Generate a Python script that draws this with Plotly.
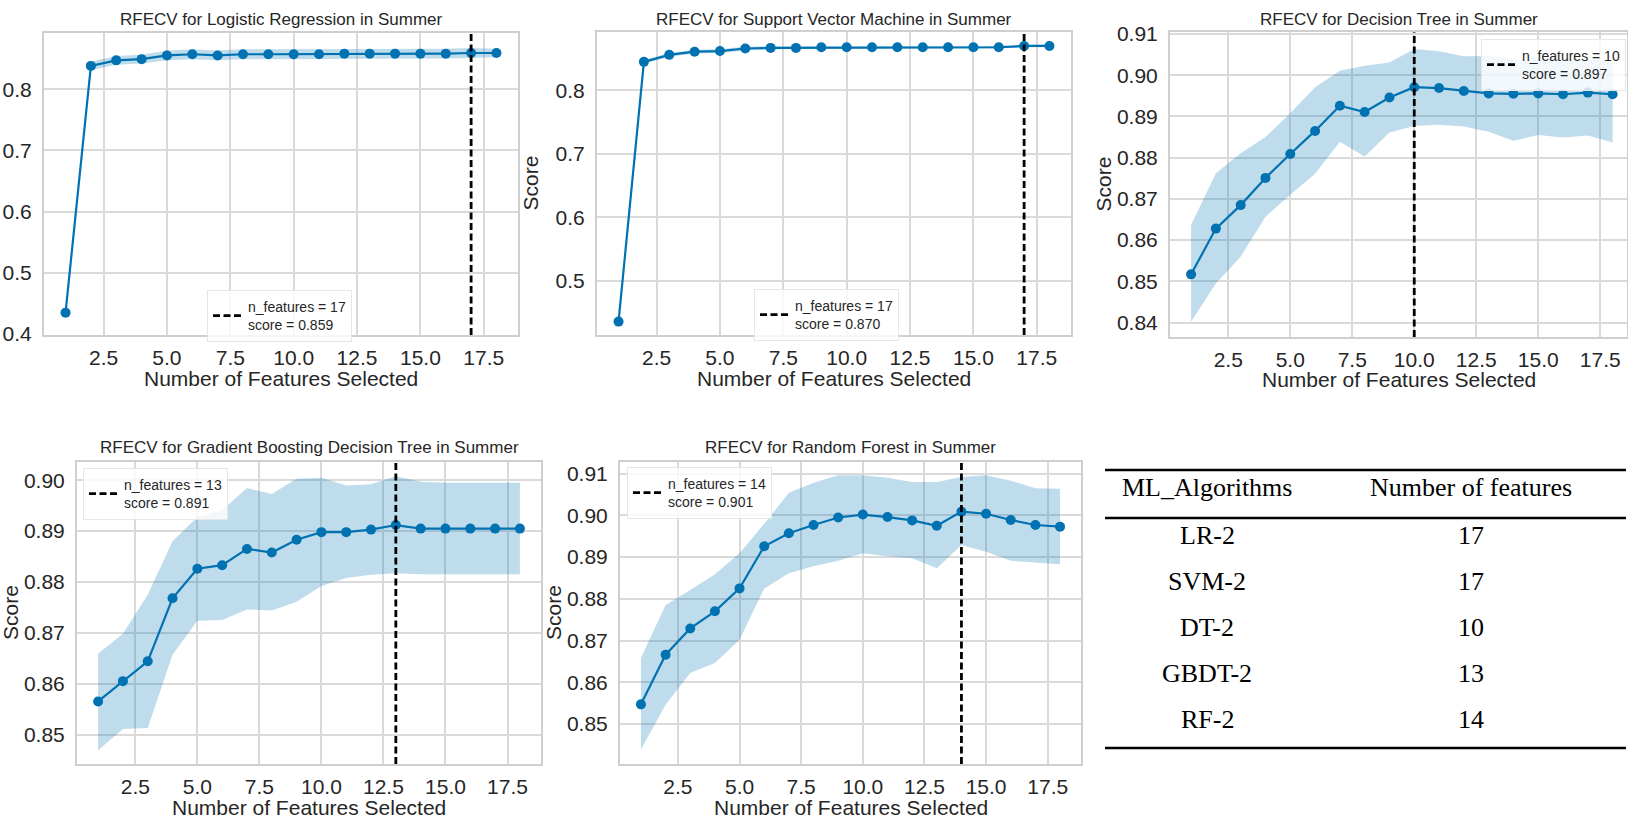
import plotly.graph_objects as go

W, H = 1628, 821

n_features = list(range(1, 19))

# ---- data ----
lr_mean = [0.435, 0.838, 0.847, 0.849, 0.855, 0.857, 0.855, 0.857, 0.857, 0.857, 0.857, 0.858, 0.858, 0.858, 0.858, 0.858, 0.859, 0.859]
lr_std = [0.002, 0.007, 0.007, 0.007, 0.008, 0.008, 0.008, 0.008, 0.008, 0.008, 0.008, 0.008, 0.008, 0.008, 0.008, 0.008, 0.008, 0.007]

svm_mean = [0.436, 0.845, 0.856, 0.861, 0.862, 0.866, 0.867, 0.867, 0.868, 0.868, 0.868, 0.868, 0.868, 0.868, 0.868, 0.868, 0.870, 0.870]
svm_std = [0.002, 0.003, 0.003, 0.003, 0.003, 0.003, 0.002, 0.002, 0.002, 0.002, 0.002, 0.002, 0.002, 0.002, 0.002, 0.002, 0.002, 0.002]

dt_mean = [0.8517, 0.8628, 0.8685, 0.8751, 0.8809, 0.8865, 0.8926, 0.8911, 0.8946, 0.8971, 0.8969, 0.8962, 0.8956, 0.8955, 0.8956, 0.8954, 0.8958, 0.8954]
dt_upper = [0.8637, 0.8762, 0.8811, 0.8850, 0.8908, 0.8971, 0.9011, 0.9023, 0.9031, 0.9064, 0.9058, 0.9046, 0.9047, 0.9039, 0.9042, 0.9038, 0.9038, 0.9035]
dt_lower = [0.8402, 0.8495, 0.8560, 0.8657, 0.8710, 0.8761, 0.8839, 0.8803, 0.8861, 0.8877, 0.8880, 0.8876, 0.8863, 0.8841, 0.8855, 0.8849, 0.8854, 0.8837]

gbdt_mean = [0.8565, 0.8605, 0.8644, 0.8768, 0.8826, 0.8833, 0.8865, 0.8858, 0.8883, 0.8898, 0.8898, 0.8903, 0.8912, 0.8905, 0.8905, 0.8905, 0.8905, 0.8905]
gbdt_upper = [0.8659, 0.8698, 0.8775, 0.8880, 0.8928, 0.8941, 0.8985, 0.8973, 0.9003, 0.9005, 0.8990, 0.8992, 0.9008, 0.8997, 0.8995, 0.8995, 0.8995, 0.8995]
gbdt_lower = [0.8469, 0.8511, 0.8513, 0.8657, 0.8724, 0.8725, 0.8746, 0.8744, 0.8761, 0.8792, 0.8808, 0.8814, 0.8817, 0.8815, 0.8815, 0.8815, 0.8815, 0.8815]

rf_mean = [0.8547, 0.8666, 0.8729, 0.8770, 0.8825, 0.8926, 0.8957, 0.8977, 0.8995, 0.9002, 0.8996, 0.8988, 0.8975, 0.9009, 0.9004, 0.8989, 0.8977, 0.8973]
rf_upper = [0.8658, 0.8785, 0.8821, 0.8859, 0.8909, 0.8980, 0.9054, 0.9078, 0.9096, 0.9096, 0.9090, 0.9080, 0.9080, 0.9092, 0.9096, 0.9083, 0.9065, 0.9064]
rf_lower = [0.8439, 0.8546, 0.8622, 0.8646, 0.8702, 0.8825, 0.8861, 0.8878, 0.8891, 0.8909, 0.8902, 0.8897, 0.8873, 0.8929, 0.8913, 0.8891, 0.8887, 0.8883]

titles = [
    "RFECV for Logistic Regression in Summer",
    "RFECV for Support Vector Machine in Summer",
    "RFECV for Decision Tree in Summer",
    "RFECV for Gradient Boosting Decision Tree in Summer",
    "RFECV for Random Forest in Summer",
]
best_n = [17, 17, 10, 13, 14]
best_score = [0.859, 0.870, 0.897, 0.891, 0.901]

table_header = ["ML_Algorithms", "Number of features"]
table_algos = ["LR-2", "SVM-2", "DT-2", "GBDT-2", "RF-2"]
table_nfeat = [17, 17, 10, 13, 14]

# ---- layout (pixel boxes of each axes: x0, x1, y_top, y_bottom) ----
boxes = [
    (44, 518, 33, 335),
    (597, 1071, 32, 335),
    (1170, 1627, 32, 337),
    (77, 541, 462, 764),
    (620, 1081, 462, 764),
]
yranges = [
    [0.3985, 0.8917],
    [0.4149, 0.892],
    [0.8365, 0.9105],
    [0.8442, 0.9036],
    [0.8404, 0.9128],
]
xranges = [[0.15, 18.85], [0.15, 18.85], [0.15, 18.58], [0.15, 18.85], [0.15, 18.85]]
ytick_vals = [
    [0.4, 0.5, 0.6, 0.7, 0.8],
    [0.5, 0.6, 0.7, 0.8],
    [0.84, 0.85, 0.86, 0.87, 0.88, 0.89, 0.90, 0.91],
    [0.85, 0.86, 0.87, 0.88, 0.89, 0.90],
    [0.85, 0.86, 0.87, 0.88, 0.89, 0.90, 0.91],
]
ytick_fmt = [".1f", ".1f", ".2f", ".2f", ".2f"]
show_ylabel = [False, True, True, True, True]
# legend anchor (px, anchor side)
legend_pos = [(207, 290, "left"), (754, 289, "left"), (1626, 39, "right"), (83, 468, "left"), (627, 467, "left")]

means = [lr_mean, svm_mean, dt_mean, gbdt_mean, rf_mean]
uppers = [
    [m + s for m, s in zip(lr_mean, lr_std)],
    [m + s for m, s in zip(svm_mean, svm_std)],
    dt_upper, gbdt_upper, rf_upper,
]
lowers = [
    [m - s for m, s in zip(lr_mean, lr_std)],
    [m - s for m, s in zip(svm_mean, svm_std)],
    dt_lower, gbdt_lower, rf_lower,
]

LINE = "#0072B2"
FILL = "rgba(0,114,178,0.25)"
TXT = "#262626"
FONT = "Liberation Sans, Arial, sans-serif"

fig = go.Figure()
layout = {}
annotations = []
shapes = []

for i in range(5):
    k = "" if i == 0 else str(i + 1)
    xa, ya = "x" + k, "y" + k
    x0, x1, yt, yb = boxes[i]
    legname = "legend" if i == 0 else "legend" + str(i + 1)

    fig.add_trace(go.Scatter(x=n_features, y=lowers[i], mode="lines", line=dict(width=0),
                             xaxis=xa, yaxis=ya, showlegend=False, hoverinfo="skip"))
    fig.add_trace(go.Scatter(x=n_features, y=uppers[i], mode="lines", line=dict(width=0),
                             fill="tonexty", fillcolor=FILL,
                             xaxis=xa, yaxis=ya, showlegend=False, hoverinfo="skip"))
    fig.add_trace(go.Scatter(x=n_features, y=means[i], mode="lines+markers",
                             line=dict(color=LINE, width=2.2),
                             marker=dict(color=LINE, size=10),
                             xaxis=xa, yaxis=ya, showlegend=False))
    fig.add_trace(go.Scatter(x=[best_n[i], best_n[i]], y=yranges[i], mode="lines",
                             line=dict(color="black", width=2.8, dash="7px,3.5px"),
                             name="n_features = %d<br>score = %.3f" % (best_n[i], best_score[i]),
                             xaxis=xa, yaxis=ya, showlegend=True, legend=legname))

    axis_common = dict(
        showline=True, mirror=True, linecolor="#cfcfcf", linewidth=2,
        showgrid=True, gridcolor="#dadada", gridwidth=1.6,
        zeroline=False, ticks="outside", tickcolor="rgba(0,0,0,0)",
        tickfont=dict(family=FONT, size=21, color=TXT), automargin=False,
    )
    layout["xaxis" + k] = dict(
        axis_common, ticklen=3,
        domain=[x0 / W, x1 / W], anchor=ya, range=xranges[i],
        tickvals=[2.5, 5.0, 7.5, 10.0, 12.5, 15.0, 17.5], tickformat=".1f",
    )
    layout["yaxis" + k] = dict(
        axis_common, ticklen=6,
        domain=[1 - yb / H, 1 - yt / H], anchor=xa, range=yranges[i],
        tickvals=ytick_vals[i], tickformat=ytick_fmt[i],
    )
    lx, ly, side = legend_pos[i]
    layout[legname] = dict(
        x=lx / W, y=1 - ly / H, xanchor=side, yanchor="top",
        bgcolor="rgba(255,255,255,0.8)", bordercolor="#e6e6e6", borderwidth=1,
        font=dict(family=FONT, size=14, color=TXT), itemwidth=30,
    )
    # subplot title
    annotations.append(dict(
        text=titles[i], x=(x0 + x1) / 2 / W, y=1 - (19 if i < 3 else 447) / H,
        xref="paper", yref="paper", xanchor="center", yanchor="middle", showarrow=False,
        font=dict(family=FONT, size=17, color=TXT),
    ))
    # x axis title
    annotations.append(dict(
        text="Number of Features Selected", x=(x0 + x1) / 2 / W, y=1 - (yb + 43) / H,
        xref="paper", yref="paper", xanchor="center", yanchor="middle", showarrow=False,
        font=dict(family=FONT, size=21, color=TXT),
    ))
    # y axis title
    if show_ylabel[i]:
        annotations.append(dict(
            text="Score", x=(x0 - 67) / W, y=1 - (yt + yb) / 2 / H, textangle=-90,
            xref="paper", yref="paper", xanchor="center", yanchor="middle", showarrow=False,
            font=dict(family=FONT, size=21, color=TXT),
        ))

# ---- table ----
TFONT = dict(family="Liberation Serif, Times New Roman, serif", size=26, color="black")
col_x = [1207, 1471]
for c in range(2):
    annotations.append(dict(text=table_header[c], x=col_x[c] / W, y=1 - 487 / H, xref="paper", yref="paper",
                            showarrow=False, xanchor="center", yanchor="middle", font=TFONT))
row_y0, row_dy = 535, 46
for r, (alg, nf) in enumerate(zip(table_algos, table_nfeat)):
    yy = 1 - (row_y0 + r * row_dy) / H
    annotations.append(dict(text=alg, x=col_x[0] / W, y=yy, xref="paper", yref="paper",
                            showarrow=False, xanchor="center", yanchor="middle", font=TFONT))
    annotations.append(dict(text=str(nf), x=col_x[1] / W, y=yy, xref="paper", yref="paper",
                            showarrow=False, xanchor="center", yanchor="middle", font=TFONT))
for ly_px in [470, 518, 748]:
    shapes.append(dict(type="line", xref="paper", yref="paper", x0=1105 / W, x1=1626 / W,
                       y0=1 - ly_px / H, y1=1 - ly_px / H, line=dict(color="black", width=2.4)))

fig.update_layout(
    width=W, height=H, margin=dict(l=0, r=0, t=0, b=0, autoexpand=False),
    paper_bgcolor="white", plot_bgcolor="white",
    annotations=annotations, shapes=shapes, **layout,
)

fig.write_html(
    "out.html",
    config={"displayModeBar": False},
    post_script="document.body.style.margin='0';document.body.style.overflow='hidden';",
)
